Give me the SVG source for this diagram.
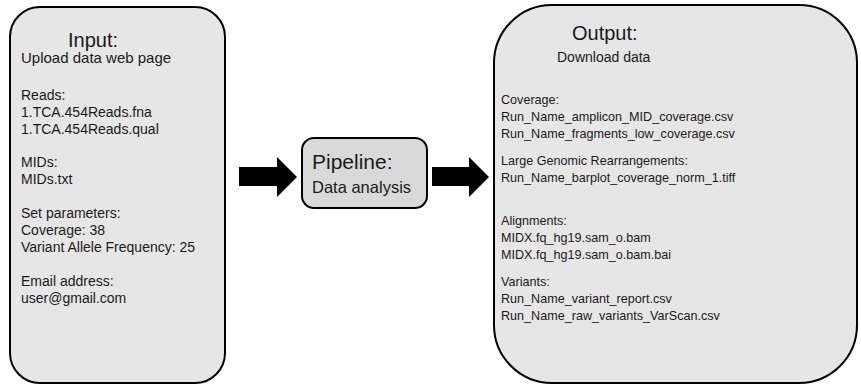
<svg xmlns="http://www.w3.org/2000/svg" width="861" height="389" viewBox="0 0 861 389">
<style>
.box{fill:#e6e6e6;stroke:#000;stroke-width:2}
.pbox{fill:#d9d9d9;stroke:#000;stroke-width:2}
text{font-family:"Liberation Sans",Arial,sans-serif;fill:#1a1a1a}
.h{font-size:20px}
.s{font-size:15px}
.b{font-size:14px}
.r{font-size:12.6px}
.arrow{fill:#000}
</style>
<rect width="861" height="389" fill="#fff"/>
<g id="input">
<rect class="box" x="10" y="7" width="215" height="376" rx="30" ry="30"/>
<text class="h" x="68" y="47">Input:</text>
<text class="s" x="21" y="63">Upload data web page</text>
<text class="b" x="21" y="100">Reads:</text>
<text class="b" x="21" y="117">1.TCA.454Reads.fna</text>
<text class="b" x="21" y="134">1.TCA.454Reads.qual</text>
<text class="b" x="21" y="167">MIDs:</text>
<text class="b" x="21" y="184">MIDs.txt</text>
<text class="b" x="21" y="218">Set parameters:</text>
<text class="b" x="21" y="235">Coverage: 38</text>
<text class="b" x="21" y="252">Variant Allele Frequency: 25</text>
<text class="b" x="21" y="286">Email address:</text>
<text class="b" x="21" y="303">user@gmail.com</text>
</g>
<g id="pipeline">
<rect class="pbox" x="302" y="138" width="125" height="70" rx="12" ry="12"/>
<text x="312" y="169" style="font-size:21px">Pipeline:</text>
<text x="312" y="193" style="font-size:16.5px">Data analysis</text>
</g>
<g id="output">
<rect class="box" x="494" y="5" width="363" height="378" rx="58" ry="58"/>
<text class="h" x="572" y="40">Output:</text>
<text x="557" y="62" style="font-size:14px">Download data</text>
<text class="r" x="501" y="104">Coverage:</text>
<text class="r" x="501" y="121">Run_Name_amplicon_MID_coverage.csv</text>
<text class="r" x="501" y="138">Run_Name_fragments_low_coverage.csv</text>
<text class="r" x="501" y="165">Large Genomic Rearrangements:</text>
<text class="r" x="501" y="182">Run_Name_barplot_coverage_norm_1.tiff</text>
<text class="r" x="501" y="225">Alignments:</text>
<text class="r" x="501" y="242">MIDX.fq_hg19.sam_o.bam</text>
<text class="r" x="501" y="259">MIDX.fq_hg19.sam_o.bam.bai</text>
<text class="r" x="501" y="286">Variants:</text>
<text class="r" x="501" y="303">Run_Name_variant_report.csv</text>
<text class="r" x="501" y="320">Run_Name_raw_variants_VarScan.csv</text>
</g>
<g id="connectors">
<polygon class="arrow" points="239,167 277,167 277,157 297,177 277,197 277,186 239,186"/>
<polygon class="arrow" points="432,167 469,167 469,157 489,177 469,197 469,186 432,186"/>
</g>
</svg>
